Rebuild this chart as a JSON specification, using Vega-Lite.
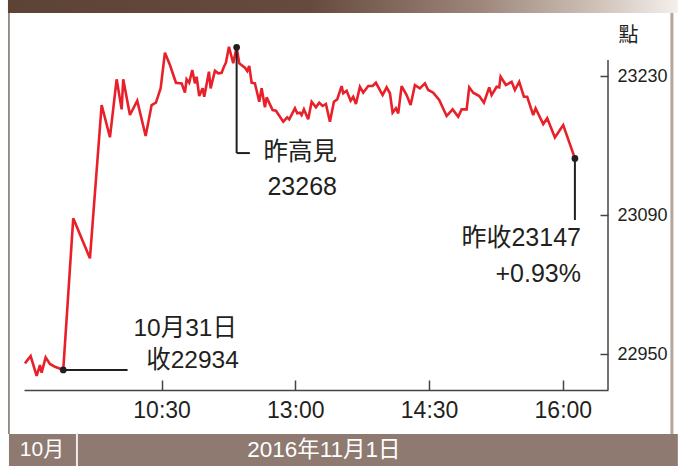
{
  "$schema": "https://vega.github.io/schema/vega-lite/v6.json",
  "width": 584,
  "height": 370,
  "autosize": "none",
  "padding": {"left": 24, "top": 20, "right": 70, "bottom": 76},
  "background": "white",
  "config": {
    "view": {"stroke": null},
    "font": "Liberation Sans, Noto Sans CJK TC, sans-serif"
  },
  "data": {"values": [{}]},
  "layer": [
    {
      "mark": {"type": "rect", "color": {"x1": 0, "y1": 0, "x2": 1, "y2": 0, "gradient": "linear", "stops": [{"offset": 0, "color": "#5d4336"}, {"offset": 0.45, "color": "#664a3d"}, {"offset": 0.7, "color": "#9c8579"}, {"offset": 0.88, "color": "#cfc2b9"}, {"offset": 1, "color": "#f4efeb"}]}},
      "encoding": {
        "x": {"datum": -43.4, "type": "quantitative", "scale": {"domain": [-32.6, 360.4], "nice": false, "zero": false}, "axis": {"orient": "bottom", "values": [60, 150, 240, 330], "labelExpr": "datum.value == 60 ? '10:30' : datum.value == 150 ? '13:00' : datum.value == 240 ? '14:30' : '16:00'", "grid": false, "title": null, "domainColor": "#444444", "domainWidth": 1.5, "tickColor": "#444444", "tickWidth": 1.5, "tickSize": -10, "labelFontSize": 23, "labelColor": "#231f20", "labelPadding": 19, "labelBaseline": "top", "labelFont": "Liberation Sans"}},
        "x2": {"datum": 407.4},
        "y": {"datum": 23306.5, "type": "quantitative", "scale": {"domain": [22913.8, 23286.4], "nice": false, "zero": false}, "axis": {"orient": "right", "values": [22950, 23090, 23230], "format": "d", "grid": false, "domain": false, "tickColor": "#444444", "tickWidth": 1.5, "tickSize": -8, "labelFontSize": 18, "labelColor": "#231f20", "labelPadding": 17, "labelBaseline": "middle", "labelFont": "Liberation Sans", "title": "點", "titleAngle": 0, "titleAlign": "left", "titleBaseline": "middle", "titleX": 10, "titleY": 15, "titleFontSize": 20, "titleFontWeight": "normal", "titleColor": "#231f20", "titleFont": "Noto Sans CJK TC"}},
        "y2": {"datum": 23293.4}
      }
    },
    {
      "mark": {"type": "rect", "color": "#8e7a70"},
      "encoding": {
        "x": {"datum": -42.73, "type": "quantitative"},
        "x2": {"datum": 407.4},
        "y": {"datum": 22869.5, "type": "quantitative"},
        "y2": {"datum": 22837.2}
      }
    },
    {
      "mark": {"type": "rule", "color": "#7a6e68", "strokeWidth": 1.5},
      "encoding": {
        "x": {"datum": -42.73, "type": "quantitative"},
        "y": {"datum": 23293.4, "type": "quantitative"},
        "y2": {"datum": 22869.5}
      }
    },
    {
      "mark": {"type": "rule", "color": "#b3a69e", "strokeWidth": 3},
      "encoding": {
        "x": {"datum": 403.4, "type": "quantitative"},
        "y": {"datum": 23293.4, "type": "quantitative"},
        "y2": {"datum": 22869.5}
      }
    },
    {
      "mark": {"type": "rule", "color": "#f0ebe8", "strokeWidth": 2},
      "encoding": {
        "x": {"datum": 3.03, "type": "quantitative"},
        "y": {"datum": 22870.5, "type": "quantitative"},
        "y2": {"datum": 22837.2}
      }
    },
    {
      "mark": {"type": "text", "color": "white", "fontSize": 21, "align": "center", "baseline": "middle"},
      "encoding": {
        "x": {"datum": -20.5, "type": "quantitative"},
        "y": {"datum": 22853.3, "type": "quantitative"},
        "text": {"value": "10月"}
      }
    },
    {
      "mark": {"type": "text", "color": "white", "fontSize": 22.5, "align": "center", "baseline": "middle"},
      "encoding": {
        "x": {"datum": 169.2, "type": "quantitative"},
        "y": {"datum": 22853.3, "type": "quantitative"},
        "text": {"value": "2016年11月1日"}
      }
    },
    {
      "mark": {"type": "rule", "color": "#444444", "strokeWidth": 1.5},
      "encoding": {
        "x": {"datum": 360.4, "type": "quantitative"},
        "y": {"datum": 22913.8, "type": "quantitative"},
        "y2": {"datum": 23246}
      }
    },
    {
      "data": {"values": [
        {"t": -31.96, "hsi": 22940.6},
        {"t": -28.13, "hsi": 22948.0},
        {"t": -24.09, "hsi": 22927.9},
        {"t": -21.87, "hsi": 22938.9},
        {"t": -20.73, "hsi": 22931.2},
        {"t": -18.03, "hsi": 22946.7},
        {"t": -15.14, "hsi": 22940.0},
        {"t": -11.78, "hsi": 22937.2},
        {"t": -6.19, "hsi": 22934.0},
        {"t": 0.54, "hsi": 23086.7},
        {"t": 11.78, "hsi": 23046.4},
        {"t": 19.65, "hsi": 23200.8},
        {"t": 25.23, "hsi": 23168.3},
        {"t": 29.74, "hsi": 23226.7},
        {"t": 33.11, "hsi": 23196.4},
        {"t": 34.18, "hsi": 23226.7},
        {"t": 38.69, "hsi": 23190.7},
        {"t": 43.60, "hsi": 23205.1},
        {"t": 49.26, "hsi": 23169.6},
        {"t": 53.29, "hsi": 23200.8},
        {"t": 56.19, "hsi": 23203.1},
        {"t": 59.35, "hsi": 23217.6},
        {"t": 62.24, "hsi": 23253.4},
        {"t": 65.61, "hsi": 23241.1},
        {"t": 69.65, "hsi": 23223.2},
        {"t": 73.48, "hsi": 23222.6},
        {"t": 75.70, "hsi": 23213.2},
        {"t": 76.84, "hsi": 23226.7},
        {"t": 78.59, "hsi": 23223.2},
        {"t": 80.61, "hsi": 23236.0},
        {"t": 82.43, "hsi": 23222.6},
        {"t": 83.57, "hsi": 23229.3},
        {"t": 85.32, "hsi": 23209.8},
        {"t": 87.61, "hsi": 23217.6},
        {"t": 88.69, "hsi": 23209.1},
        {"t": 91.85, "hsi": 23234.3},
        {"t": 93.00, "hsi": 23217.6},
        {"t": 95.89, "hsi": 23235.3},
        {"t": 98.11, "hsi": 23232.7},
        {"t": 100.40, "hsi": 23233.3},
        {"t": 101.94, "hsi": 23239.3},
        {"t": 103.29, "hsi": 23243.4},
        {"t": 105.31, "hsi": 23259.5},
        {"t": 108.20, "hsi": 23242.8},
        {"t": 110.49, "hsi": 23258.9},
        {"t": 112.24, "hsi": 23242.8},
        {"t": 116.08, "hsi": 23238.3},
        {"t": 117.62, "hsi": 23235.0},
        {"t": 118.97, "hsi": 23240.1},
        {"t": 120.58, "hsi": 23223.2},
        {"t": 122.80, "hsi": 23222.6},
        {"t": 125.70, "hsi": 23204.1},
        {"t": 127.31, "hsi": 23217.6},
        {"t": 129.53, "hsi": 23198.5},
        {"t": 130.68, "hsi": 23208.5},
        {"t": 134.71, "hsi": 23195.7},
        {"t": 136.94, "hsi": 23195.0},
        {"t": 141.85, "hsi": 23184.0},
        {"t": 144.54, "hsi": 23188.4},
        {"t": 145.89, "hsi": 23186.4},
        {"t": 149.72, "hsi": 23197.5},
        {"t": 151.27, "hsi": 23192.4},
        {"t": 153.08, "hsi": 23193.0},
        {"t": 154.23, "hsi": 23190.7},
        {"t": 155.78, "hsi": 23196.4},
        {"t": 158.67, "hsi": 23186.4},
        {"t": 160.96, "hsi": 23204.1},
        {"t": 163.85, "hsi": 23198.5},
        {"t": 166.07, "hsi": 23203.1},
        {"t": 168.36, "hsi": 23199.8},
        {"t": 170.58, "hsi": 23201.8},
        {"t": 173.27, "hsi": 23184.0},
        {"t": 175.96, "hsi": 23204.1},
        {"t": 178.18, "hsi": 23206.5},
        {"t": 181.14, "hsi": 23219.9},
        {"t": 182.22, "hsi": 23212.6},
        {"t": 184.51, "hsi": 23215.2},
        {"t": 187.20, "hsi": 23205.1},
        {"t": 188.95, "hsi": 23209.1},
        {"t": 190.77, "hsi": 23201.8},
        {"t": 193.46, "hsi": 23219.2},
        {"t": 195.68, "hsi": 23213.2},
        {"t": 199.04, "hsi": 23219.9},
        {"t": 202.00, "hsi": 23219.9},
        {"t": 204.22, "hsi": 23223.2},
        {"t": 208.73, "hsi": 23210.8},
        {"t": 211.43, "hsi": 23218.6},
        {"t": 213.65, "hsi": 23212.6},
        {"t": 215.46, "hsi": 23193.0},
        {"t": 217.68, "hsi": 23197.5},
        {"t": 219.23, "hsi": 23192.4},
        {"t": 221.52, "hsi": 23219.9},
        {"t": 224.88, "hsi": 23210.8},
        {"t": 227.57, "hsi": 23200.8},
        {"t": 230.47, "hsi": 23220.9},
        {"t": 233.83, "hsi": 23217.6},
        {"t": 237.20, "hsi": 23222.6},
        {"t": 239.42, "hsi": 23215.9},
        {"t": 242.78, "hsi": 23213.2},
        {"t": 246.82, "hsi": 23205.8},
        {"t": 251.80, "hsi": 23189.7},
        {"t": 255.84, "hsi": 23196.4},
        {"t": 259.60, "hsi": 23189.0},
        {"t": 261.89, "hsi": 23196.4},
        {"t": 265.26, "hsi": 23196.4},
        {"t": 267.01, "hsi": 23218.6},
        {"t": 269.70, "hsi": 23213.2},
        {"t": 273.74, "hsi": 23209.8},
        {"t": 276.90, "hsi": 23203.1},
        {"t": 280.46, "hsi": 23218.6},
        {"t": 282.08, "hsi": 23210.8},
        {"t": 285.44, "hsi": 23219.2},
        {"t": 287.19, "hsi": 23218.6},
        {"t": 288.14, "hsi": 23229.3},
        {"t": 291.70, "hsi": 23220.9},
        {"t": 295.54, "hsi": 23224.2},
        {"t": 297.76, "hsi": 23215.9},
        {"t": 300.65, "hsi": 23224.2},
        {"t": 303.81, "hsi": 23209.1},
        {"t": 306.03, "hsi": 23209.1},
        {"t": 310.07, "hsi": 23190.7},
        {"t": 311.69, "hsi": 23197.5},
        {"t": 316.80, "hsi": 23181.6},
        {"t": 319.49, "hsi": 23187.4},
        {"t": 324.68, "hsi": 23168.2},
        {"t": 330.26, "hsi": 23180.6},
        {"t": 338.13, "hsi": 23147.0}
      ]},
      "mark": {"type": "line", "color": "#e8202a", "strokeWidth": 2.6, "strokeJoin": "miter", "strokeMiterLimit": 3},
      "encoding": {
        "x": {"field": "t", "type": "quantitative"},
        "y": {"field": "hsi", "type": "quantitative"}
      }
    },
    {
      "mark": {"type": "rule", "color": "#231f20", "strokeWidth": 2},
      "encoding": {
        "x": {"datum": 110.49, "type": "quantitative"},
        "y": {"datum": 23258.9, "type": "quantitative"},
        "y2": {"datum": 23152.4}
      }
    },
    {
      "mark": {"type": "rule", "color": "#231f20", "strokeWidth": 2},
      "encoding": {
        "x": {"datum": 110.49, "type": "quantitative"},
        "x2": {"datum": 119.4},
        "y": {"datum": 23152.4, "type": "quantitative"}
      }
    },
    {
      "mark": {"type": "rule", "color": "#231f20", "strokeWidth": 2},
      "encoding": {
        "x": {"datum": 338.13, "type": "quantitative"},
        "y": {"datum": 23147, "type": "quantitative"},
        "y2": {"datum": 23085}
      }
    },
    {
      "mark": {"type": "rule", "color": "#231f20", "strokeWidth": 2},
      "encoding": {
        "x": {"datum": -6.19, "type": "quantitative"},
        "x2": {"datum": 37.1},
        "y": {"datum": 22934, "type": "quantitative"}
      }
    },
    {
      "data": {"values": [
        {"t": 110.49, "hsi": 23258.9},
        {"t": 338.13, "hsi": 23147},
        {"t": -6.19, "hsi": 22934}
      ]},
      "mark": {"type": "point", "filled": true, "color": "#231f20", "size": 45, "opacity": 1},
      "encoding": {
        "x": {"field": "t", "type": "quantitative"},
        "y": {"field": "hsi", "type": "quantitative"}
      }
    },
    {
      "mark": {"type": "text", "color": "#231f20", "fontSize": 24.5, "align": "right", "baseline": "middle"},
      "encoding": {"x": {"datum": 178.0, "type": "quantitative"}, "y": {"datum": 23152.4, "type": "quantitative"}, "text": {"value": "昨高見"}}
    },
    {
      "mark": {"type": "text", "color": "#231f20", "fontSize": 25, "align": "right", "baseline": "middle"},
      "encoding": {"x": {"datum": 178.0, "type": "quantitative"}, "y": {"datum": 23118.2, "type": "quantitative"}, "text": {"value": "23268"}}
    },
    {
      "mark": {"type": "text", "color": "#231f20", "fontSize": 25, "align": "right", "baseline": "middle"},
      "encoding": {"x": {"datum": 342.2, "type": "quantitative"}, "y": {"datum": 23066.8, "type": "quantitative"}, "text": {"value": "昨收23147"}}
    },
    {
      "mark": {"type": "text", "color": "#231f20", "fontSize": 25, "align": "right", "baseline": "middle"},
      "encoding": {"x": {"datum": 342.2, "type": "quantitative"}, "y": {"datum": 23031.1, "type": "quantitative"}, "text": {"value": "+0.93%"}}
    },
    {
      "mark": {"type": "text", "color": "#231f20", "fontSize": 24.5, "align": "right", "baseline": "middle"},
      "encoding": {"x": {"datum": 110.7, "type": "quantitative"}, "y": {"datum": 22975.7, "type": "quantitative"}, "text": {"value": "10月31日"}}
    },
    {
      "mark": {"type": "text", "color": "#231f20", "fontSize": 24.5, "align": "right", "baseline": "middle"},
      "encoding": {"x": {"datum": 112.0, "type": "quantitative"}, "y": {"datum": 22943.0, "type": "quantitative"}, "text": {"value": "收22934"}}
    }
  ]
}
